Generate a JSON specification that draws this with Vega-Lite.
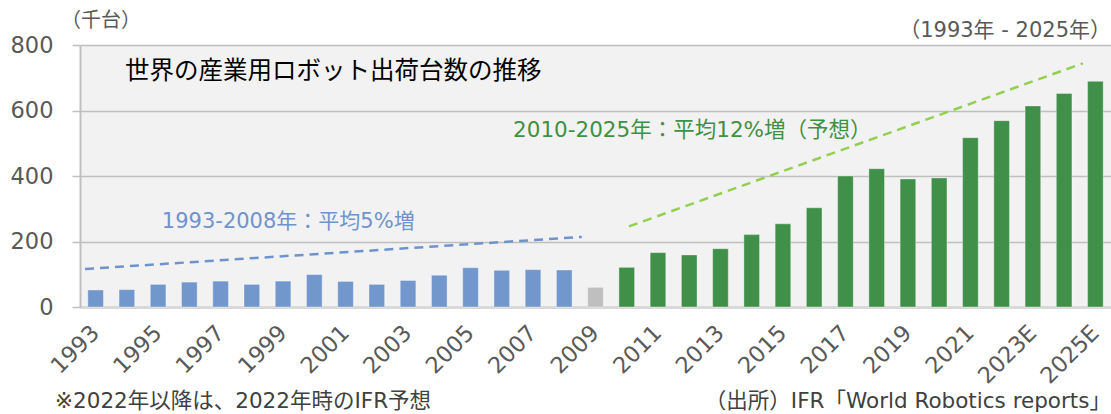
{
  "$schema": "https://vega.github.io/schema/vega-lite/v6.json",
  "width": 1031,
  "height": 262,
  "autosize": {"type": "none"},
  "padding": {"left": 80, "top": 45, "right": 0, "bottom": 107},
  "background": "white",
  "config": {"view": {"fill": "#F2F2F2", "stroke": null}, "font": "DejaVu Sans, Noto Sans CJK JP"},
  "layer": [
    {
      "data": {"values": [
        {"year": "1993", "value": 52, "group": "a"},
        {"year": "1994", "value": 53, "group": "a"},
        {"year": "1995", "value": 69, "group": "a"},
        {"year": "1996", "value": 76, "group": "a"},
        {"year": "1997", "value": 79, "group": "a"},
        {"year": "1998", "value": 69, "group": "a"},
        {"year": "1999", "value": 79, "group": "a"},
        {"year": "2000", "value": 99, "group": "a"},
        {"year": "2001", "value": 78, "group": "a"},
        {"year": "2002", "value": 69, "group": "a"},
        {"year": "2003", "value": 81, "group": "a"},
        {"year": "2004", "value": 97, "group": "a"},
        {"year": "2005", "value": 120, "group": "a"},
        {"year": "2006", "value": 112, "group": "a"},
        {"year": "2007", "value": 114, "group": "a"},
        {"year": "2008", "value": 113, "group": "a"},
        {"year": "2009", "value": 60, "group": "b"},
        {"year": "2010", "value": 121, "group": "c"},
        {"year": "2011", "value": 166, "group": "c"},
        {"year": "2012", "value": 159, "group": "c"},
        {"year": "2013", "value": 178, "group": "c"},
        {"year": "2014", "value": 221, "group": "c"},
        {"year": "2015", "value": 254, "group": "c"},
        {"year": "2016", "value": 303, "group": "c"},
        {"year": "2017", "value": 400, "group": "c"},
        {"year": "2018", "value": 422, "group": "c"},
        {"year": "2019", "value": 391, "group": "c"},
        {"year": "2020", "value": 394, "group": "c"},
        {"year": "2021", "value": 517, "group": "c"},
        {"year": "2022E", "value": 569, "group": "c"},
        {"year": "2023E", "value": 614, "group": "c"},
        {"year": "2024E", "value": 652, "group": "c"},
        {"year": "2025E", "value": 689, "group": "c"}
      ]},
      "mark": {"type": "bar", "stroke": "#ffffff", "strokeOpacity": 0.35, "strokeWidth": 1},
      "encoding": {
        "x": {
          "field": "year", "type": "ordinal", "sort": null,
          "scale": {"paddingInner": 0.5, "paddingOuter": 0.25},
          "axis": {
            "title": null,
            "values": ["1993","1995","1997","1999","2001","2003","2005","2007","2009","2011","2013","2015","2017","2019","2021","2023E","2025E"],
            "labelAngle": -45, "labelAlign": "right", "labelBaseline": "middle",
            "labelFont": "DejaVu Sans", "labelFontSize": 22.5, "labelColor": "#595959", "labelPadding": 22,
            "ticks": false, "grid": false,
            "domainColor": "#D9D9D9", "domainWidth": 3
          }
        },
        "y": {
          "field": "value", "type": "quantitative",
          "scale": {"domain": [0, 800], "nice": false},
          "axis": {
            "title": null, "values": [0, 200, 400, 600, 800],
            "grid": true, "gridColor": "#BFBFBF", "gridWidth": 1.5,
            "tickColor": "#BFBFBF", "tickSize": 8, "tickWidth": 1.5,
            "domainColor": "#BFBFBF", "domainWidth": 2,
            "labelFont": "DejaVu Sans", "labelFontSize": 22.5, "labelColor": "#595959", "labelPadding": 19
          }
        },
        "color": {
          "field": "group", "type": "nominal",
          "scale": {"domain": ["a", "b", "c"], "range": ["#7297CC", "#BFBFBF", "#40904A"]},
          "legend": null
        }
      }
    },
    {
      "layer": [
        {
          "data": {"values": [
            {"year": 1992.66, "value": 116},
            {"year": 2008.56, "value": 214}
          ]},
          "mark": {"type": "line", "stroke": "#6F93CC", "strokeWidth": 2.5, "strokeDash": [9, 6]},
          "encoding": {
            "x": {"field": "year", "type": "quantitative", "scale": {"domain": [1992.5, 2025.5], "nice": false, "zero": false}, "axis": null},
            "y": {"field": "value", "type": "quantitative", "scale": {"domain": [0, 800], "nice": false}}
          }
        },
        {
          "data": {"values": [
            {"year": 2010.07, "value": 246},
            {"year": 2024.6, "value": 744}
          ]},
          "mark": {"type": "line", "stroke": "#92D050", "strokeWidth": 2.5, "strokeDash": [9, 6]},
          "encoding": {
            "x": {"field": "year", "type": "quantitative", "scale": {"domain": [1992.5, 2025.5], "nice": false, "zero": false}, "axis": null},
            "y": {"field": "value", "type": "quantitative", "scale": {"domain": [0, 800], "nice": false}}
          }
        },
        {
          "data": {"values": [{}]},
          "mark": {"type": "text", "text": "世界の産業用ロボット出荷台数の推移", "align": "left", "baseline": "middle", "font": "Noto Sans CJK JP", "fontSize": 24.5, "color": "#000000"},
          "encoding": {
            "x": {"datum": 1993.94, "type": "quantitative", "scale": {"domain": [1992.5, 2025.5], "nice": false, "zero": false}, "axis": null},
            "y": {"datum": 718, "type": "quantitative", "scale": {"domain": [0, 800], "nice": false}}
          }
        },
        {
          "data": {"values": [{}]},
          "mark": {"type": "text", "text": "2010-2025年：平均12%増（予想）", "align": "left", "baseline": "middle", "fontSize": 21.5, "color": "#3F9142"},
          "encoding": {
            "x": {"datum": 2006.36, "type": "quantitative", "scale": {"domain": [1992.5, 2025.5], "nice": false, "zero": false}, "axis": null},
            "y": {"datum": 537, "type": "quantitative", "scale": {"domain": [0, 800], "nice": false}}
          }
        },
        {
          "data": {"values": [{}]},
          "mark": {"type": "text", "text": "1993-2008年：平均5%増", "align": "left", "baseline": "middle", "fontSize": 21, "color": "#6F93CC"},
          "encoding": {
            "x": {"datum": 1995.12, "type": "quantitative", "scale": {"domain": [1992.5, 2025.5], "nice": false, "zero": false}, "axis": null},
            "y": {"datum": 260, "type": "quantitative", "scale": {"domain": [0, 800], "nice": false}}
          }
        },
        {
          "data": {"values": [{}]},
          "mark": {"type": "text", "text": "（千台）", "align": "left", "baseline": "middle", "fontSize": 20, "color": "#595959"},
          "encoding": {
            "x": {"datum": 1991.89, "type": "quantitative", "scale": {"domain": [1992.5, 2025.5], "nice": false, "zero": false}, "axis": null},
            "y": {"datum": 873, "type": "quantitative", "scale": {"domain": [0, 800], "nice": false}}
          }
        },
        {
          "data": {"values": [{}]},
          "mark": {"type": "text", "text": "（1993年 - 2025年）", "align": "right", "baseline": "middle", "fontSize": 21, "color": "#595959"},
          "encoding": {
            "x": {"datum": 2025.5, "type": "quantitative", "scale": {"domain": [1992.5, 2025.5], "nice": false, "zero": false}, "axis": null},
            "y": {"datum": 842, "type": "quantitative", "scale": {"domain": [0, 800], "nice": false}}
          }
        },
        {
          "data": {"values": [{}]},
          "mark": {"type": "text", "text": "※2022年以降は、2022年時のIFR予想", "align": "left", "baseline": "middle", "fontSize": 21.5, "color": "#404040"},
          "encoding": {
            "x": {"datum": 1991.7, "type": "quantitative", "scale": {"domain": [1992.5, 2025.5], "nice": false, "zero": false}, "axis": null},
            "y": {"datum": -291, "type": "quantitative", "scale": {"domain": [0, 800], "nice": false}}
          }
        },
        {
          "data": {"values": [{}]},
          "mark": {"type": "text", "text": "（出所）IFR「World Robotics reports」", "align": "right", "baseline": "middle", "fontSize": 21.5, "color": "#404040"},
          "encoding": {
            "x": {"datum": 2025.5, "type": "quantitative", "scale": {"domain": [1992.5, 2025.5], "nice": false, "zero": false}, "axis": null},
            "y": {"datum": -291, "type": "quantitative", "scale": {"domain": [0, 800], "nice": false}}
          }
        }
      ]
    }
  ],
  "resolve": {"scale": {"x": "independent"}}
}
